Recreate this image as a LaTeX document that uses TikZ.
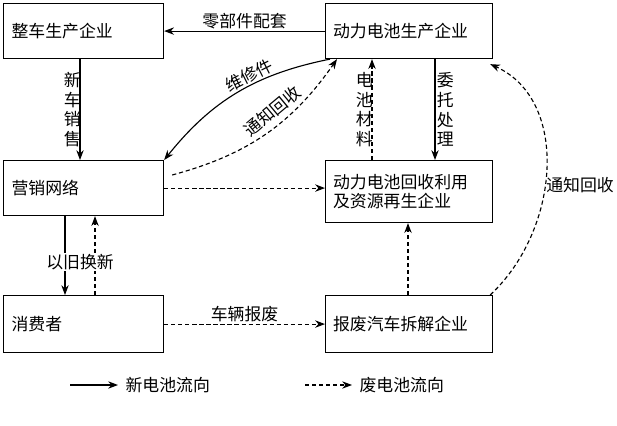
\documentclass[tikz,border=0pt]{standalone}
\usepackage{fontspec}
\setmainfont{Noto Sans CJK SC}
\usetikzlibrary{arrows.meta,calc}
\tikzset{
  unit/.style = {draw=black, thick, minimum width=4cm, minimum height=1.4cm, align=left, font=\large},
  newflow/.style = {-{Stealth[length=7pt]}, thick},
  oldflow/.style = {-{Stealth[length=7pt]}, thick, densely dashed},
  lbl/.style = {font=\large, inner sep=1pt}
}
\begin{document}
\begin{tikzpicture}[x=0.025cm, y=-0.025cm]
\useasboundingbox (0,0) rectangle (617,426);
% UNITS
\node (Car) [unit, minimum height=1.375cm, anchor=north west, text width=3.6cm] at (3,3) {整车生产企业};
\node (Bat) [unit, minimum height=1.375cm, anchor=north west, minimum width=4.175cm, text width=3.8cm] at (325,3) {动力电池生产企业};
\node (Net) [unit, minimum height=1.375cm, anchor=north west, text width=3.6cm] at (3,160) {营销网络};
\node (Rec) [unit, minimum height=1.55cm, anchor=north west, minimum width=4.175cm, text width=3.8cm] at (325,160) {动力电池回收利用\\及资源再生企业};
\node (Usr) [unit, minimum height=1.425cm, anchor=north west, text width=3.6cm] at (3,295) {消费者};
\node (Scr) [unit, minimum height=1.425cm, anchor=north west, minimum width=4.175cm, text width=3.8cm] at (325,295) {报废汽车拆解企业};
% FLOWS
\draw [newflow] (Bat.west) -- node[lbl, above] {零部件配套} (Car.east);
\draw [newflow] (Car.south -| 80,0) -- node[lbl, left, align=center, text width=1em] {新\\车\\销\\售} (Net.north -| 80,0);
\draw [newflow] ($(Bat.south west)+(5,0)$) to[bend right=20] node[lbl, sloped, above, pos=0.4] {维修件} (Net.north east);
\draw [oldflow] ($(Net.north east)+(8,15)$) to[bend right=20] node[lbl, sloped, above=3pt, pos=0.6] {通知回收} ($(Bat.south west)+(12,0)$);
\draw [oldflow] (Rec.north -| 372,0) -- node[lbl, left, align=center, text width=1em] {电\\池\\材\\料} (Bat.south -| 372,0);
\draw [newflow] (Bat.south -| 435,0) -- node[lbl, right, align=center, text width=1em] {委\\托\\处\\理} (Rec.north -| 435,0);
\draw [oldflow] (Net.east) -- (Rec.west |- Net.east);
\draw [newflow] (Net.south -| 65,0) -- (Usr.north -| 65,0);
\draw [oldflow] (Usr.north -| 95,0) -- (Net.south -| 95,0);
\node (Swap) [lbl, fill=white] at (80,262) {以旧换新};
\draw [oldflow] (Usr.east) -- node[lbl, above] {车辆报废} (Scr.west);
\draw [oldflow] (Scr.north -| 408,0) -- (Rec.south -| 408,0);
\draw [oldflow] ($(Scr.north east)+(-3,0)$) .. controls (560,230) and (570,100) .. ($(Bat.south east)+(-3,5)$);
\node (Notify) [lbl] at (580,185) {通知回收};
% LEGEND
\coordinate (L1) at (70,385); \coordinate (L2) at (118,385);
\draw [newflow] (L1) -- (L2) node[lbl, right=4pt] {新电池流向};
\coordinate (L3) at (305,385); \coordinate (L4) at (352,385);
\draw [oldflow] (L3) -- (L4) node[lbl, right=4pt] {废电池流向};
\end{tikzpicture}
\end{document}
